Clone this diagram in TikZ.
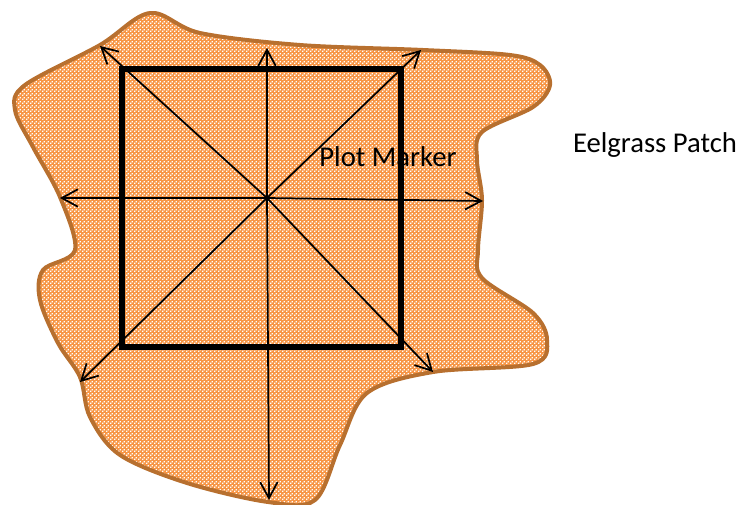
\documentclass[tikz,border=0pt]{standalone}
\usepackage{fontspec}
\setmainfont{Carlito}
\usetikzlibrary{arrows.meta,patterns.meta}
\definecolor{patchorange}{HTML}{F79646}
\definecolor{patchedge}{HTML}{B8702F}
\tikzdeclarepattern{
  name=finechecks,
  type=uncolored,
  bounding box={(0,0) and (2.6pt,2.6pt)},
  tile size={(2.6pt,2.6pt)},
  code={
    \fill (0,0) rectangle (1.25pt,1.25pt);
    \fill (1.3pt,1.3pt) rectangle (2.55pt,2.55pt);
  }
}
\tikzset{
  patch/.style={preaction={fill=patchorange}, pattern={finechecks}, pattern color=white,
    draw=patchedge, line width=3pt},
  plotsq/.style={draw=black, line width=4pt},
  ray/.style={draw=black, line width=1.3pt, -{Straight Barb[length=12pt,width=13pt,line width=1.3pt]}},
  lbl/.style={font=\fontsize{21.5}{26}\selectfont, inner sep=0pt}
}
\begin{document}
\begin{tikzpicture}[x=0.75pt,y=-0.75pt]
\useasboundingbox (0,0) rectangle (743,504);
% eelgrass patch outline
\path[patch] plot[smooth cycle, tension=0.55] coordinates {
 (150,13) (200,33) (300,45) (423,50) (510,55) (540,65) (550,85) (533,107)
 (482,132) (477,160) (482,200) (478,250) (482,278) (533,313) (547,340)
 (533,364) (433,372) (367,393) (340,445) (315,500) (268,502) (187,483)
 (120,455) (90,417) (80,377) (58,343) (40,300) (43,270) (75,250) (60,197)
 (33,147) (15,110) (25,85) (100,45)};
% plot square
\node[plotsq, minimum width=279*0.75pt, minimum height=278*0.75pt, inner sep=0pt] (sq) at (261.5,208) {};
\coordinate (c) at (267,198);
\coordinate (n) at (267,48);
\coordinate (s) at (269,500);
\coordinate (w) at (60,198);
\coordinate (e) at (483,201);
\coordinate (nw) at (100,46);
\coordinate (ne) at (421,50);
\coordinate (sw) at (80,382);
\coordinate (se) at (433,372);
\foreach \t in {n,s,w,e,nw,ne,sw,se} \draw[ray] (c) -- (\t);
\node[lbl] (pm) at (388,157) {Plot Marker};
\node[lbl, anchor=base] (ep) at (655,152) {Eelgrass Patch};
\end{tikzpicture}
\end{document}
